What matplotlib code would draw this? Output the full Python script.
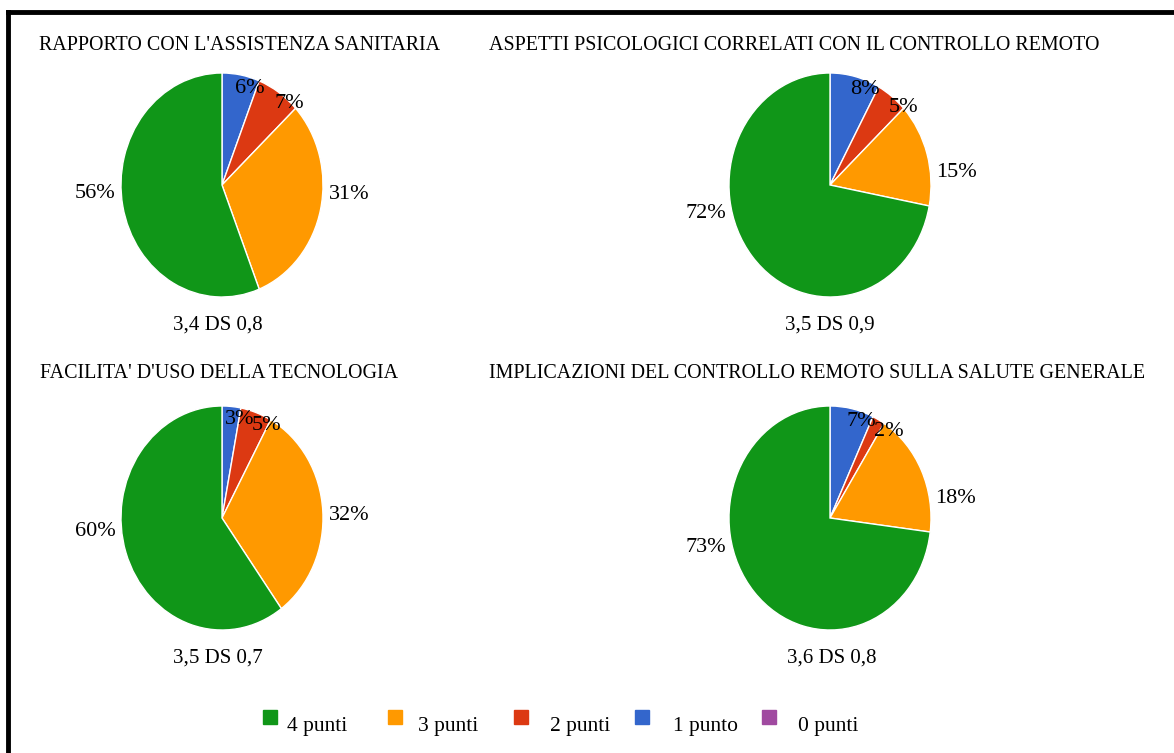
import matplotlib
matplotlib.use("Agg")
import matplotlib.pyplot as plt
from matplotlib.lines import Line2D
import numpy as np

plt.rcParams['font.family'] = ['Liberation Serif', 'DejaVu Serif']

titles = [
    "RAPPORTO CON L'ASSISTENZA SANITARIA",
    "ASPETTI PSICOLOGICI CORRELATI CON IL CONTROLLO REMOTO",
    "FACILITA' D'USO DELLA TECNOLOGIA",
    "IMPLICAZIONI DEL CONTROLLO REMOTO SULLA SALUTE GENERALE",
]
subtitles = ["3,4 DS 0,8", "3,5 DS 0,9", "3,5 DS 0,7", "3,6 DS 0,8"]
categories = ["4 punti", "3 punti", "2 punti", "1 punto", "0 punti"]
colors = ["#109618", "#ff9900", "#dc3912", "#3366cc", "#a04aa0"]

# values in percent, order: 1 punto, 2 punti, 3 punti, 4 punti (clockwise from top)
punto1 = [6, 8, 3, 7]
punti2 = [7, 5, 5, 2]
punti3 = [31, 15, 32, 18]
punti4 = [56, 72, 60, 73]

W, H = 1174, 753
fig = plt.figure(figsize=(W / 100, H / 100), dpi=100)

# border (top and left visible)
fig.add_artist(Line2D([8 / W, 8 / W], [0, 1 - 12 / H], transform=fig.transFigure, color='black', lw=3.5))
fig.add_artist(Line2D([8 / W, 1], [1 - 12 / H, 1 - 12 / H], transform=fig.transFigure, color='black', lw=3.5))

centers = [(222, 185), (830, 185), (222, 518), (830, 518)]
title_pos = [(39, 45), (489, 45), (40, 373), (489, 373)]
sub_pos = [(218, 325), (830, 325), (218, 658), (832, 658)]
rx, ry = 101, 112

slice_cols = [colors[3], colors[2], colors[1], colors[0]]

for i in range(4):
    cx, cy = centers[i]
    ax = fig.add_axes([(cx - rx) / W, (H - cy - ry) / H, 2 * rx / W, 2 * ry / H])
    vals = [punto1[i], punti2[i], punti3[i], punti4[i]]
    wedges, _ = ax.pie(vals, colors=slice_cols, startangle=90, counterclock=False,
                       wedgeprops=dict(edgecolor='white', linewidth=1))
    ax.set_aspect('auto')
    ax.set_xlim(-1, 1)
    ax.set_ylim(-1, 1)
    ax.axis('off')
    for w, v in zip(wedges, vals):
        ang = np.deg2rad((w.theta1 + w.theta2) / 2)
        c, s = np.cos(ang), np.sin(ang)
        if v >= 10:
            y = s * 0.4
            x = np.sign(c) * (np.sqrt(1 - y * y) + 0.06)
            ha = 'left' if c > 0 else 'right'
            ax.text(x, y, f"{v}%", ha=ha, va='center', fontsize=16, clip_on=False)
        else:
            x, y = c * 1.05 + 0.08, s * 0.88
            ax.text(x, y, f"{v}%", ha='center', va='center', fontsize=16, clip_on=False)
    tx, ty = title_pos[i]
    fig.text(tx / W, 1 - ty / H, titles[i], ha='left', va='center', fontsize=14.4)
    sx, sy = sub_pos[i]
    fig.text(sx / W, 1 - sy / H, subtitles[i], ha='center', va='center', fontsize=15)

# legend
sq_x = [270, 395, 521, 642, 769]
txt_x = [287, 418, 550, 673, 798]
for c, lab, sx, tx in zip(colors, categories, sq_x, txt_x):
    fig.add_artist(Line2D([sx / W], [1 - 717 / H], transform=fig.transFigure, marker='s',
                          markersize=10, markerfacecolor=c, markeredgecolor=c, linestyle='none'))
    fig.text(tx / W, 1 - 726 / H, lab, ha='left', va='center', fontsize=15.5)

fig.savefig("out.png", dpi=100)
